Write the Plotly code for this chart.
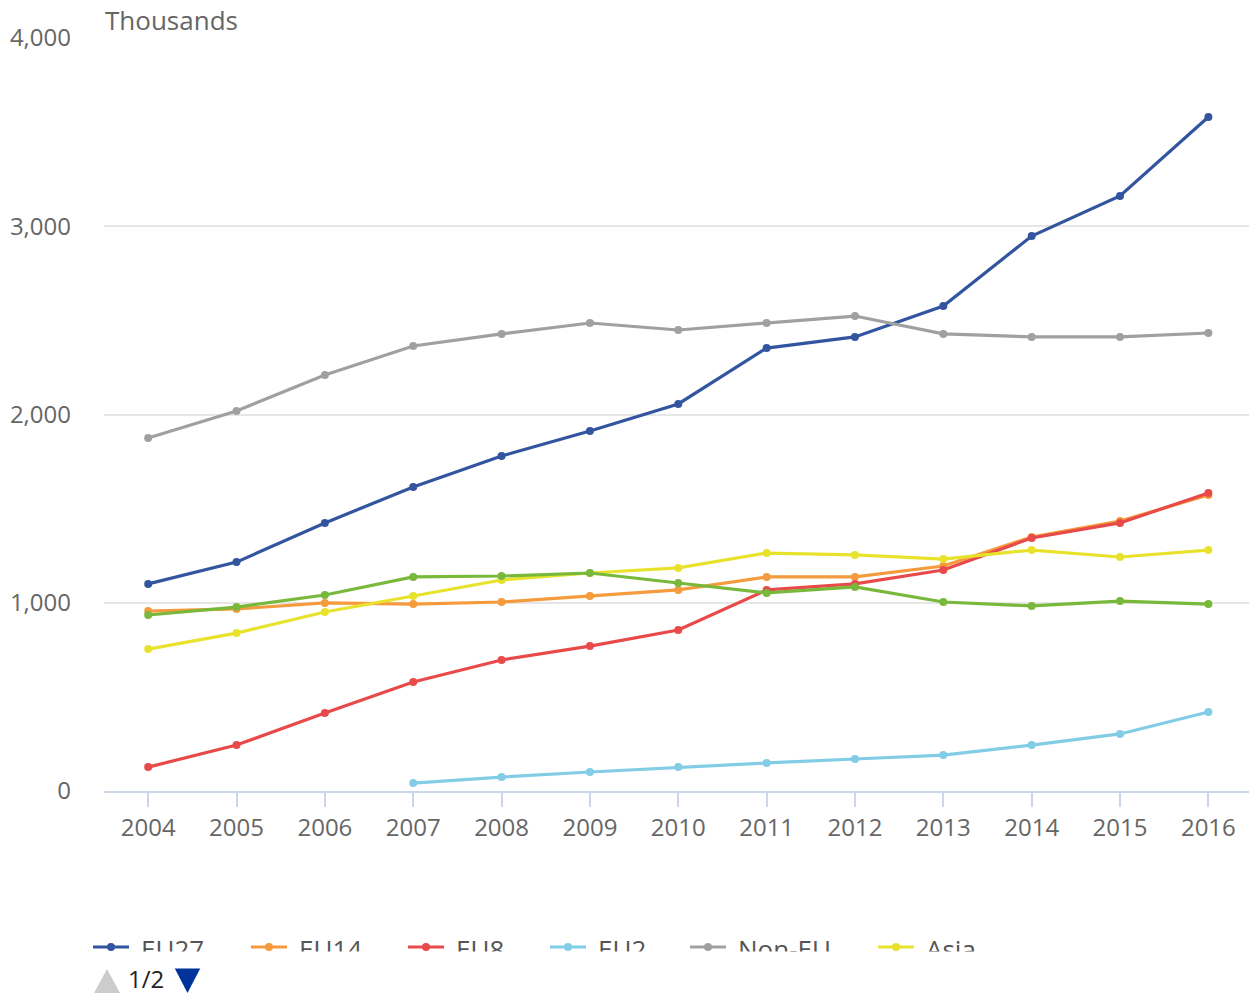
import plotly.graph_objects as go

years = list(range(2004, 2017))
eu27 = [1100, 1216, 1424, 1615, 1780, 1912, 2056, 2353, 2412, 2576, 2948, 3161, 3580]
eu14 = [956, 967, 999, 993, 1004, 1036, 1068, 1137, 1137, 1195, 1349, 1434, 1572]
eu8 = [127, 244, 414, 579, 696, 770, 855, 1068, 1100, 1174, 1344, 1424, 1583]
eu2_years = list(range(2007, 2017))
eu2 = [42, 74, 101, 127, 149, 170, 191, 244, 303, 420]
non_eu = [1875, 2019, 2210, 2364, 2428, 2486, 2449, 2486, 2523, 2428, 2412, 2412, 2433]
asia = [754, 839, 951, 1036, 1121, 1158, 1185, 1264, 1254, 1232, 1280, 1243, 1280]
rest = [935, 977, 1041, 1137, 1142, 1158, 1105, 1052, 1084, 1004, 983, 1009, 993]

series = [
    ("EU27", years, eu27, "#3355a0"),
    ("EU14", years, eu14, "#f59b3d"),
    ("EU8", years, eu8, "#e84a4a"),
    ("EU2", eu2_years, eu2, "#82cce6"),
    ("Non-EU", years, non_eu, "#a0a0a0"),
    ("Asia", years, asia, "#e8e22c"),
    ("Rest of world", years, rest, "#78b83a"),
]
legend_names = ["EU27", "EU14", "EU8", "EU2", "Non-EU", "Asia"]
legend_x = [93, 251, 408, 550, 690, 878]

W, H = 1249, 994
L, R, T, B = 104, 0, 38, 203
PW, PH = W - L - R, H - T - B

def px(x):
    return (x - L) / PW

def py(y):
    return (H - B - y) / PH

fig = go.Figure()
for name, xs, ys, col in series:
    fig.add_trace(go.Scatter(
        x=xs, y=ys, name=name, mode="lines+markers",
        line=dict(color=col, width=3.2),
        marker=dict(color=col, size=8),
        showlegend=False,
    ))

shapes = []
annotations = []
font = "Open Sans, sans-serif"

# manual (clipped) legend
colmap = dict((s[0], s[3]) for s in series)
for name, x0 in zip(legend_names, legend_x):
    col = colmap[name]
    shapes.append(dict(type="line", xref="paper", yref="paper",
                       x0=px(x0), x1=px(x0 + 36), y0=py(947), y1=py(947),
                       line=dict(color=col, width=3.2), layer="above"))
    shapes.append(dict(type="circle", xref="paper", yref="paper",
                       x0=px(x0 + 14), x1=px(x0 + 22), y0=py(943), y1=py(951),
                       fillcolor=col, line=dict(width=0), layer="above"))
    annotations.append(dict(text=name, xref="paper", yref="paper",
                            x=px(x0 + 46), y=py(949), xanchor="left", yanchor="middle",
                            showarrow=False, font=dict(family=font, size=26, color="#555555")))
# white cover to clip legend text
annotations.append(dict(text=" ", xref="paper", yref="paper", x=px(80), y=py(951),
                        xanchor="left", yanchor="top", showarrow=False,
                        bgcolor="white", width=1000, height=14, font=dict(size=10)))
# pager
annotations.append(dict(text="1/2", xref="paper", yref="paper", x=px(126), y=py(978),
                        xanchor="left", yanchor="middle", showarrow=False,
                        font=dict(family=font, size=24, color="#222222")))
shapes.append(dict(type="path", xref="paper", yref="paper",
                   path=f"M {px(94)},{py(993)} L {px(120)},{py(993)} L {px(107)},{py(969)} Z",
                   fillcolor="#cccccc", line=dict(width=0)))
shapes.append(dict(type="path", xref="paper", yref="paper",
                   path=f"M {px(174)},{py(967)} L {px(201)},{py(967)} L {px(187.5)},{py(993)} Z",
                   fillcolor="#003399", line=dict(width=0)))

annotations.append(dict(text="Thousands", xref="paper", yref="paper", x=px(103), y=py(20),
                        xanchor="left", yanchor="middle", showarrow=False,
                        font=dict(family=font, size=26, color="#666666")))

fig.update_layout(
    width=W, height=H,
    margin=dict(l=L, r=R, t=T, b=B),
    paper_bgcolor="white", plot_bgcolor="white",
    font=dict(family=font, size=24, color="#666666"),
    shapes=shapes, annotations=annotations,
    showlegend=False,
)
fig.update_xaxes(
    range=[2003.5, 2016.46], tickvals=years, ticktext=[str(y) for y in years],
    showgrid=False, showline=True, linecolor="#ccd6eb", linewidth=1.5,
    ticks="outside", ticklen=14, tickcolor="#ccd6eb", tickwidth=1.5,
    ticklabelstandoff=0, tickfont=dict(size=24, color="#666666"), zeroline=False,
)
fig.update_yaxes(
    range=[0, 4000], tickvals=[0, 1000, 2000, 3000, 4000], tickformat=",",
    showgrid=True, gridcolor="#e6e6e6", gridwidth=1.5, zeroline=False,
    showline=False, ticklabelstandoff=32, tickfont=dict(size=24, color="#666666"),
)

fig.write_html("out.html")
